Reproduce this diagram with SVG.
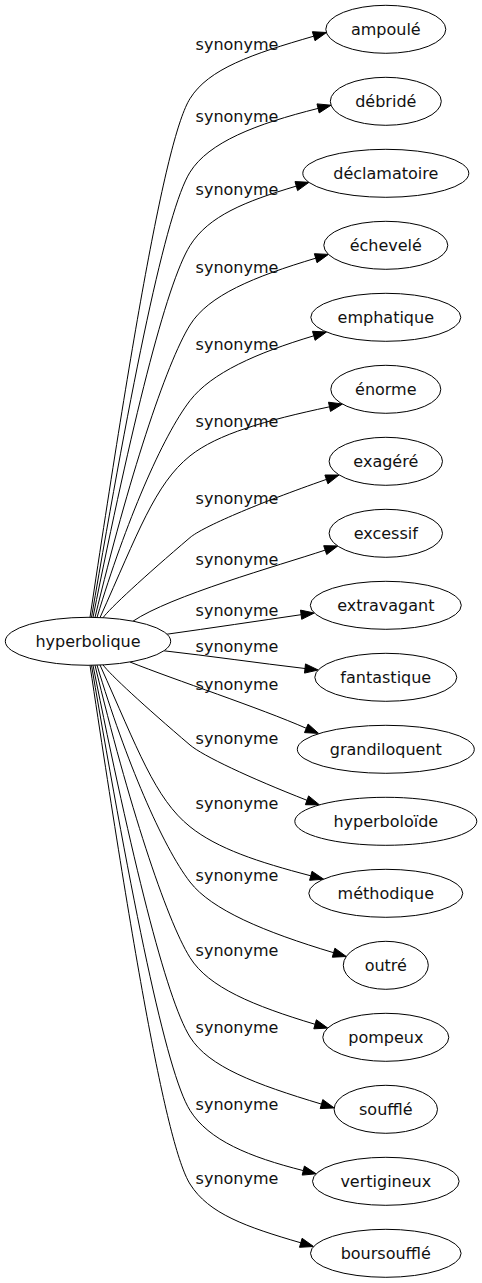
<svg xmlns="http://www.w3.org/2000/svg" width="482" height="1283" viewBox="0 0 482 1283">
<style>
.n ellipse{fill:#fff;stroke:#000;stroke-width:1}
.n text,.l{font-family:"DejaVu Sans","Liberation Sans",sans-serif;font-size:16px;fill:#111;text-anchor:middle}
.e path{fill:none;stroke:#000;stroke-width:1}
.e polygon{fill:#000;stroke:#000;stroke-width:1}
</style>
<rect width="482" height="1283" fill="#fff"/>
<g id="edges" class="e">
<path d="M90,617.3 C132.5,334.3 166.1,136.9 190,98.6 C208.6,68.8 251.5,54.2 313.7,36.2"/><polygon points="326.5,32.5 315,40.7 312.4,31.7"/>
<path d="M91.5,617.3 C132,380.4 166.1,210.5 190,172.2 C208.6,142.4 255.3,124.1 318.1,108.4"/><polygon points="331,105.2 319.2,112.9 317,103.9"/>
<path d="M93,617.3 C131.2,426.4 166.1,283.9 190,245.6 C208.6,215.8 245.3,201.4 296.3,186.1"/><polygon points="309,182.3 297.6,190.6 295,181.6"/>
<path d="M95,617.4 C127.8,480.8 166.1,363.3 190,325 C208.6,295.2 253.7,276.8 315.7,258.2"/><polygon points="328.4,254.4 317,262.7 314.4,253.7"/>
<path d="M97,617.5 C125.4,522.8 162.5,436.2 190,400.6 C211.4,372.9 256.2,353.1 313.8,335.8"/><polygon points="326.5,332 315.1,340.3 312.5,331.3"/>
<path d="M100,617.6 C137.8,533.5 154.9,484 190,455.9 C217.3,434 265.4,420.5 329.5,406.8"/><polygon points="342.5,404 330.5,411.4 328.5,402.2"/>
<path d="M103,617.8 C109.5,608.6 144.3,576.5 190,537.6 C202.6,526.9 257.2,503.6 326.4,479.4"/><polygon points="339,475 327.9,483.8 324.9,475"/>
<path d="M133,621.2 C170,596 277.7,565.8 325.2,550.1"/><polygon points="337.8,545.9 326.7,554.5 323.7,545.7"/>
<path d="M167,634.2 C211,628 258,621 301.1,614.7"/><polygon points="314.3,613 301.7,619.3 300.5,610.1"/>
<path d="M164,650.8 C210,656 258,663 305,668.5"/><polygon points="318.2,670 304.5,673.1 305.5,663.9"/>
<path d="M130,662 C175,680 260,708 306.3,728.3"/><polygon points="318.6,733.4 304.5,732.6 308.1,724"/>
<path d="M103,664.8 C109.5,674 144.3,706.1 190,745 C202.6,755.7 249.4,777.8 307,800.3"/><polygon points="319.5,804.9 305.4,804.7 308.6,795.9"/>
<path d="M100,665 C137.8,749.1 154.9,798.6 190,826.7 C217.3,848.6 257.9,862 310.8,875.8"/><polygon points="323.7,879.2 309.6,880.3 312,871.3"/>
<path d="M97,665.1 C125.4,759.8 162.5,846.4 190,882 C211.4,909.7 264.1,931.9 333.6,952.7"/><polygon points="346.3,956.5 332.3,957.2 334.9,948.2"/>
<path d="M95,665.2 C127.8,801.8 166.1,919.3 190,957.6 C208.6,987.4 253.5,1005.8 315.1,1024.3"/><polygon points="327.8,1028.1 313.8,1028.8 316.4,1019.8"/>
<path d="M93,665.3 C131.2,856.2 166.1,998.7 190,1037 C208.6,1066.8 255.3,1084.2 321.5,1104.1"/><polygon points="334.2,1107.9 320.2,1108.6 322.8,1099.6"/>
<path d="M91.5,665.3 C132,902.2 166.1,1072.1 190,1110.4 C208.6,1140.2 249.4,1157 303.3,1170.6"/><polygon points="316.2,1173.8 302.2,1175.1 304.4,1166.1"/>
<path d="M90,665.3 C132.5,948.3 166.1,1145.7 190,1184 C208.6,1213.8 246.4,1227 300.8,1242.8"/><polygon points="313.6,1246.5 299.5,1247.3 302.1,1238.3"/>
<text class="l" x="237" y="50">synonyme</text>
<text class="l" x="237" y="122">synonyme</text>
<text class="l" x="237" y="195">synonyme</text>
<text class="l" x="237" y="273">synonyme</text>
<text class="l" x="237" y="350">synonyme</text>
<text class="l" x="237" y="427">synonyme</text>
<text class="l" x="237" y="504">synonyme</text>
<text class="l" x="237" y="565">synonyme</text>
<text class="l" x="237" y="616">synonyme</text>
<text class="l" x="237" y="652">synonyme</text>
<text class="l" x="237" y="690">synonyme</text>
<text class="l" x="237" y="744">synonyme</text>
<text class="l" x="237" y="809">synonyme</text>
<text class="l" x="237" y="881">synonyme</text>
<text class="l" x="237" y="956">synonyme</text>
<text class="l" x="237" y="1033">synonyme</text>
<text class="l" x="237" y="1110">synonyme</text>
<text class="l" x="237" y="1184">synonyme</text>
</g>
<g id="hyperbolique" class="n"><ellipse cx="88" cy="641.3" rx="82.7" ry="24"/><text x="88" y="646.8">hyperbolique</text></g>
<g id="ampoule" class="n"><ellipse cx="385.8" cy="29.3" rx="60" ry="24"/><text x="385.8" y="34.8">ampoulé</text></g>
<g id="debride" class="n"><ellipse cx="385.8" cy="101.3" rx="55.5" ry="24"/><text x="385.8" y="106.8">débridé</text></g>
<g id="declamatoire" class="n"><ellipse cx="385.8" cy="173.3" rx="83" ry="24"/><text x="385.8" y="178.8">déclamatoire</text></g>
<g id="echevele" class="n"><ellipse cx="385.8" cy="245.3" rx="62" ry="24"/><text x="385.8" y="250.8">échevelé</text></g>
<g id="emphatique" class="n"><ellipse cx="385.8" cy="317.3" rx="75" ry="24"/><text x="385.8" y="322.8">emphatique</text></g>
<g id="enorme" class="n"><ellipse cx="385.8" cy="389.3" rx="55" ry="24"/><text x="385.8" y="394.8">énorme</text></g>
<g id="exagere" class="n"><ellipse cx="385.8" cy="461.3" rx="56.7" ry="24"/><text x="385.8" y="466.8">exagéré</text></g>
<g id="excessif" class="n"><ellipse cx="385.8" cy="533.3" rx="56.7" ry="24"/><text x="385.8" y="538.8">excessif</text></g>
<g id="extravagant" class="n"><ellipse cx="385.8" cy="605.3" rx="75.5" ry="24"/><text x="385.8" y="610.8">extravagant</text></g>
<g id="fantastique" class="n"><ellipse cx="385.8" cy="677.3" rx="71" ry="24"/><text x="385.8" y="682.8">fantastique</text></g>
<g id="grandiloquent" class="n"><ellipse cx="385.8" cy="749.3" rx="88.5" ry="24"/><text x="385.8" y="754.8">grandiloquent</text></g>
<g id="hyperboloide" class="n"><ellipse cx="385.8" cy="821.3" rx="91" ry="24"/><text x="385.8" y="826.8">hyperboloïde</text></g>
<g id="methodique" class="n"><ellipse cx="385.8" cy="893.3" rx="77" ry="24"/><text x="385.8" y="898.8">méthodique</text></g>
<g id="outre" class="n"><ellipse cx="385.8" cy="965.3" rx="42.5" ry="24"/><text x="385.8" y="970.8">outré</text></g>
<g id="pompeux" class="n"><ellipse cx="385.8" cy="1037.3" rx="63" ry="24"/><text x="385.8" y="1042.8">pompeux</text></g>
<g id="souffle" class="n"><ellipse cx="385.8" cy="1109.3" rx="51.7" ry="24"/><text x="385.8" y="1114.8">soufflé</text></g>
<g id="vertigineux" class="n"><ellipse cx="385.8" cy="1181.3" rx="73.3" ry="24"/><text x="385.8" y="1186.8">vertigineux</text></g>
<g id="boursouffle" class="n"><ellipse cx="385.8" cy="1253.3" rx="75.3" ry="24"/><text x="385.8" y="1258.8">boursoufflé</text></g>
</svg>
